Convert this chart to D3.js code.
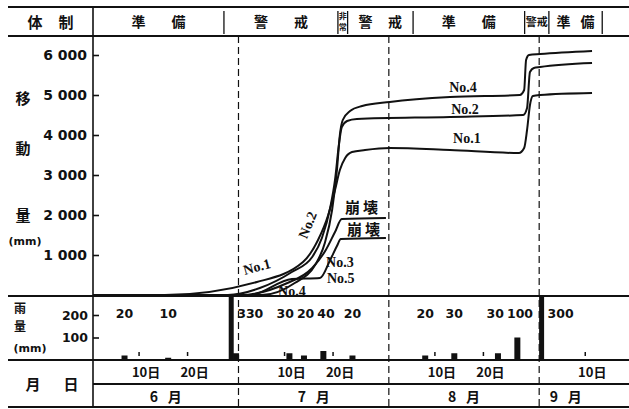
<!DOCTYPE html>
<html><head><meta charset="utf-8">
<script src="https://cdn.jsdelivr.net/npm/d3@7"></script>
<style>
html,body{margin:0;padding:0;background:#fff;}
svg{display:block;background:#fff;}
text{fill:#111;}
.cjk{font-family:"Noto Sans CJK JP",sans-serif;font-weight:700;}
.num{font-family:"DejaVu Sans",sans-serif;font-weight:700;}
.lab{font-family:"Liberation Serif",serif;font-weight:700;}
</style></head><body>
<svg id="c" width="629" height="409"></svg>
<script>
// ---------------- data ----------------
const YEAR = 1961;
// displacement series: [month, day, value(mm)]
const no1 = [[6,1,0],[6,15.8,0],[7,4.8,325],[7,14.3,825],[7,17.4,1375],[7,19.5,2000],[7,20.9,2625],[7,21.9,3125],[7,23,3425],[7,24.4,3575],[7,27.1,3625],[8,1.2,3675],[8,13.6,3625],[8,27.8,3550],[8,28.9,3675],[8,29.5,4125],[8,30.1,4750],[8,30.7,4975],[9,1.2,5000],[9,11.9,5050]];
const no2 = [[6,1,0],[6,28.8,0],[7,5.4,175],[7,12,575],[7,16.2,950],[7,18.2,1425],[7,19.9,2175],[7,20.9,2875],[7,21.7,3750],[7,22.3,4200],[7,23.4,4350],[7,25.4,4400],[8,13.6,4450],[8,28.7,4500],[8,29.5,4675],[8,30.1,5575],[8,30.9,5675],[9,1.2,5700],[9,11.9,5800]];
const no4 = [[6,1,0],[7,5.8,0],[7,12.6,300],[7,16.8,750],[7,18.8,1300],[7,20.3,2125],[7,21.3,3125],[7,21.9,4000],[7,22.5,4375],[7,24,4600],[7,26.5,4725],[8,1.2,4825],[8,13.6,4950],[8,28,5000],[8,28.9,5125],[8,29.3,5875],[8,29.9,6000],[9,1.2,6025],[9,11.9,6100]];
const no3 = [[6,1,0],[7,1.3,0],[7,10.6,275],[7,16.2,675],[7,19,1125],[7,20.9,1575],[7,22.3,1900],[7,31.4,1925]];
const no5 = [[6,1,0],[7,3.4,0],[7,12,400],[7,17.8,425],[7,19.9,875],[7,21.3,1225],[7,22.1,1400],[7,31.4,1425]];

// rainfall (daily, mm)
const rainDates  = [[6,7],[6,16],[6,29],[6,30],[7,11],[7,14],[7,18],[7,24],[8,8],[8,14],[8,23],[8,27],[9,1]];
const rainValues = [20,10,330,30,30,20,40,20,20,30,30,100,300];
const rainLabels = ["20","10","330","","30","20","40","20","20","30","30","100","300"];

// axis ticks
const dispTicks = [1000,2000,3000,4000,5000,6000];
const rainTicks = [100,200];
const dayTicks = [[6,10],[6,20],[7,10],[7,20],[8,10],[8,20],[9,10]];
const dayTickLabels = ["10日","20日","10日","20日","10日","20日","10日"];
const monthStarts = [[7,1],[8,1],[9,1]];
const monthLabels = ["6 月","7 月","8 月","9 月"];
const monthLabelAt = [[6,16],[7,16.5],[8,16.5],[9,6.5]];

// regime header (体制)
const headerStarts = [[6,1],[6,28],[7,21.5],[7,23.5],[8,6],[8,29],[9,3]];
const headerEnd = [9,14];
const headerLabels = ["準備","警戒","非常","警戒","準備","警戒","準備"];

// curve annotations: [month, day, value]
const curveNotes = [
  {t:"No.4", at:[8,16.3,5200]},
  {t:"No.2", at:[8,16.7,4650]},
  {t:"No.1", at:[8,17.1,3925]},
  {t:"No.1", at:[7,4.8,700], r:-15},
  {t:"No.2", at:[7,15.3,1750], r:-68},
  {t:"No.3", at:[7,21.9,825]},
  {t:"No.5", at:[7,22.1,425]},
  {t:"No.4", at:[7,12,100]}
];
const collapseNotes = [[7,26.7,2225],[7,27.1,1675]];

// ---------------- layout ----------------
const TOP = 7, HEAD = 36, PB = 296, RB = 360, DL = 384, BOT = 407, LEFT = 93, W = 629;
const toDate = (m, d) => new Date(new Date(YEAR, m - 1, 1).getTime() + (d - 1) * 864e5);
const T = a => toDate(a[0], a[1]);

const x = d3.scaleTime().domain([new Date(YEAR,5,1), new Date(YEAR,8,19,12,30)]).range([LEFT, W]);
const y = d3.scaleLinear().domain([0,6000]).range([295,55]);
const yr = d3.scaleLinear().domain([0,200]).range([RB,315]);

const svg = d3.select("#c");
const ink = "#111";

// dashed month boundaries
svg.append("g").selectAll("line").data(monthStarts).join("line")
  .attr("x1", d=>x(T(d))).attr("x2", d=>x(T(d)))
  .attr("y1", HEAD).attr("y2", BOT)
  .attr("stroke", ink).attr("stroke-width", 1.2).attr("stroke-dasharray", "7,4");

// horizontal frame lines
const hl = [[8,TOP,2.2],[8,HEAD,2.2],[8,PB,2],[8,RB,2.2],[LEFT,DL,1.8],[8,BOT,2]];
svg.append("g").selectAll("line").data(hl).join("line")
  .attr("x1", d=>d[0]).attr("x2", W).attr("y1", d=>d[1]).attr("y2", d=>d[1])
  .attr("stroke", ink).attr("stroke-width", d=>d[2]);
// left vertical divider / axis
svg.append("line").attr("x1",LEFT).attr("x2",LEFT).attr("y1",TOP).attr("y2",BOT)
  .attr("stroke",ink).attr("stroke-width",1.6);

// header cells
const hb = headerStarts.slice(1).concat([headerEnd]);
svg.append("g").selectAll("line").data(hb).join("line")
  .attr("x1", d=>x(T(d))).attr("x2", d=>x(T(d))).attr("y1", TOP+4).attr("y2", HEAD-2)
  .attr("stroke", ink).attr("stroke-width", 1.3);
const hg = svg.append("g").attr("class","cjk");
headerLabels.forEach((lab, i) => {
  const x0 = x(T(headerStarts[i])), x1 = x(T(i+1 < headerStarts.length ? headerStarts[i+1] : headerEnd));
  const w = x1 - x0, c = (x0 + x1) / 2;
  if (lab === "非常") {
    [...lab].forEach((ch, k) => hg.append("text").attr("x", c).attr("y", 15.5 + k*11)
      .attr("text-anchor","middle").attr("dominant-baseline","central").attr("font-size",8).text(ch));
  } else if (w < 30) {
    hg.append("text").attr("x", c).attr("y", 21).attr("text-anchor","middle")
      .attr("dominant-baseline","central").attr("font-size",11).text(lab);
  } else {
    const gap = w > 100 ? 40 : w * 0.45;
    [...lab].forEach((ch, k) => hg.append("text").attr("x", c + (k - 0.5) * gap).attr("y", 21)
      .attr("text-anchor","middle").attr("dominant-baseline","central").attr("font-size",14).text(ch));
  }
});

// displacement axis
const fmt = d => d3.format(",")(d).replace(",", " ");
const ya = svg.append("g").attr("transform",`translate(${LEFT},0)`)
  .call(d3.axisLeft(y).tickValues(dispTicks).tickSize(-6).tickPadding(6).tickFormat(fmt));
ya.select(".domain").remove();
ya.selectAll("line").attr("stroke",ink).attr("stroke-width",1.6);
ya.selectAll("text").attr("class","num").attr("font-size",14).attr("fill",ink);

// rain axis
const ra = svg.append("g").attr("transform",`translate(${LEFT},0)`)
  .call(d3.axisLeft(yr).tickValues(rainTicks).tickSize(-6).tickPadding(5));
ra.select(".domain").remove();
ra.selectAll("line").attr("stroke",ink).attr("stroke-width",1.6);
ra.selectAll("text").attr("class","num").attr("font-size",12.5).attr("fill",ink);

// rain bars
const mid = a => toDate(a[0], a[1] + 0.5);
svg.append("g").selectAll("rect").data(rainValues).join("rect")
  .attr("x", (v,i) => x(mid(rainDates[i])) - (v > 200 ? 2.5 : 3))
  .attr("width", v => v > 200 ? 5 : 6)
  .attr("y", v => Math.max(yr(v), PB))
  .attr("height", v => RB - Math.max(yr(v), PB))
  .attr("fill", ink);
// rain labels (small ones spread apart so they do not collide)
const rl = svg.append("g").attr("class","num").selectAll("text").data(rainLabels).join("text")
  .attr("x", (t,i) => x(mid(rainDates[i])) + (rainValues[i] > 200 ? 6 : 0))
  .attr("y", 313)
  .attr("text-anchor", (t,i) => rainValues[i] > 200 ? "start" : "middle")
  .attr("dominant-baseline","central").attr("font-size",12.5).text(t => t);
const items = rl.nodes().map((n,i) => ({n, x:+n.getAttribute("x"), w:n.getComputedTextLength(),
  fixed: rainValues[i] > 200 || !rainLabels[i]})).filter(d => !d.fixed).sort((a,b)=>a.x-b.x);
for (let k = 0; k < 200; k++) {
  for (let j = 0; j < items.length - 1; j++) {
    const a = items[j], b = items[j+1], need = (a.w + b.w) / 2 + 3;
    if (b.x - a.x < need) { const s = (need - (b.x - a.x)) / 2; a.x -= s; b.x += s; }
  }
}
items.forEach(d => d.n.setAttribute("x", d.x));
// small day ticks on rain baseline
svg.append("g").selectAll("line").data(dayTicks).join("line")
  .attr("x1", d=>x(mid(d))).attr("x2", d=>x(mid(d))).attr("y1", RB-8).attr("y2", RB-4)
  .attr("stroke", ink).attr("stroke-width", 1.5);

// date row labels
svg.append("g").attr("class","cjk").selectAll("text").data(dayTicks).join("text")
  .attr("x", d => x(mid(d)) + 7).attr("y", 371).attr("text-anchor","middle")
  .attr("dominant-baseline","central").attr("font-size",13).text((d,i)=>dayTickLabels[i]);
// month labels
svg.append("g").attr("class","cjk").selectAll("text").data(monthLabels).join("text")
  .attr("x", (t,i) => x(T(monthLabelAt[i]))).attr("y", 396).attr("text-anchor","middle")
  .attr("dominant-baseline","central").attr("font-size",14)
  .text(t => t.replace(" ", "\u2002\u2009"));

// curves
const line = d3.line().x(d => x(T(d))).y(d => y(d[2])).curve(d3.curveMonotoneX);
svg.append("g").selectAll("path").data([no5, no3, no4, no2, no1]).join("path")
  .attr("d", line).attr("fill","none").attr("stroke",ink).attr("stroke-width",2)
  .attr("stroke-linejoin","round");

// curve labels
svg.append("g").attr("class","lab").selectAll("text").data(curveNotes).join("text")
  .attr("transform", d => `translate(${x(T(d.at))},${y(d.at[2])}) rotate(${d.r||0})`)
  .attr("text-anchor","middle").attr("dominant-baseline","central").attr("font-size",14)
  .text(d => d.t);
svg.append("g").attr("class","cjk").selectAll("text").data(collapseNotes).join("text")
  .attr("x", d => x(T(d))).attr("y", d => y(d[2])).attr("text-anchor","middle")
  .attr("dominant-baseline","central").attr("font-size",15).attr("letter-spacing",3).text("崩壊");

// left column texts
const lt = svg.append("g").attr("class","cjk");
const leftTexts = [
  ["体",35,21,15],["制",66,21,15],
  ["移",23,97,15],["動",23,147,15],["量",23,214,15],
  ["雨",20,307,12],["量",20,325,12],
  ["月",33,383,15],["日",71,383,15]
];
leftTexts.forEach(([t,xx,yy,fs]) => lt.append("text").attr("x",xx).attr("y",yy)
  .attr("text-anchor","middle").attr("dominant-baseline","central").attr("font-size",fs).text(t));
const mm = svg.append("g").attr("class","num");
[[25,241],[30,348]].forEach(([xx,yy]) => mm.append("text").attr("x",xx).attr("y",yy)
  .attr("text-anchor","middle").attr("dominant-baseline","central").attr("font-size",11).text("(mm)"));
</script></body></html>
